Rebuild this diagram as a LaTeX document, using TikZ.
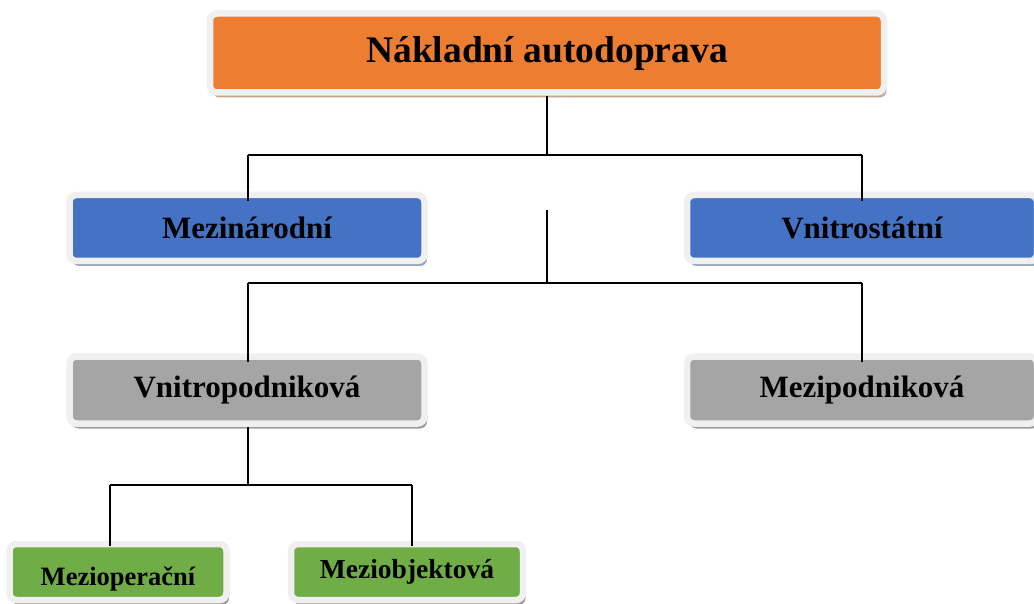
\documentclass[tikz,border=0pt]{standalone}
\usepackage{fontspec}
\setmainfont{Liberation Serif}
\usetikzlibrary{shadows}
\definecolor{orangeF}{HTML}{ED7D31}
\definecolor{blueF}{HTML}{4472C4}
\definecolor{greyF}{HTML}{A5A5A5}
\definecolor{greenF}{HTML}{70AD47}
\definecolor{frameC}{HTML}{F0F0F0}
\definecolor{shTan}{HTML}{C4A48C}
\definecolor{shBlue}{HTML}{98A6BE}
\definecolor{shGrey}{HTML}{9C9C9C}
\tikzset{
  box/.style={draw=frameC, line width=6.5pt, rounded corners=7pt, inner sep=0pt,
    font=\bfseries, text=black},
  conn/.style={draw=black, line width=1.8pt},
  shad/.style={drop shadow={shadow xshift=2.5pt, shadow yshift=-5pt, fill=#1, opacity=1}},
}
\begin{document}
\begin{tikzpicture}[x=1pt,y=-1pt]
\useasboundingbox (0,0) rectangle (1034,604);
\clip (0,0) rectangle (1034,604);
% nodes
\node[box, fill=orangeF, minimum width=674pt, minimum height=79pt, shad=shTan,
  font=\bfseries\fontsize{37.5}{40}\selectfont] (top) at (547,53) {\raisebox{-1pt}{Nákladní autodoprava}};
\node[box, fill=blueF, minimum width=355pt, minimum height=66pt, shad=shBlue,
  font=\bfseries\fontsize{31}{33}\selectfont] (mez) at (247,228) {\raisebox{-1pt}{Mezinárodní}};
\node[box, fill=blueF, minimum width=350pt, minimum height=66pt, shad=shBlue,
  font=\bfseries\fontsize{31}{33}\selectfont] (vni) at (862,228) {\raisebox{-1pt}{Vnitrostátní}};
\node[box, fill=greyF, minimum width=355pt, minimum height=67pt, shad=shGrey,
  font=\bfseries\fontsize{31}{33}\selectfont] (vpod) at (247,390) {Vnitropodniková};
\node[box, fill=greyF, minimum width=350pt, minimum height=67pt, shad=shGrey,
  font=\bfseries\fontsize{31}{33}\selectfont] (mpod) at (862,390) {Mezipodniková};
\node[box, fill=greenF, minimum width=217pt, minimum height=56pt, shad=shGrey,
  font=\bfseries\fontsize{26.5}{28}\selectfont, text depth=0pt] (mop) at (118,572) {\raisebox{-9pt}{Mezioperační}};
\node[box, fill=greenF, minimum width=232pt, minimum height=56pt, shad=shGrey,
  font=\bfseries\fontsize{27.5}{29}\selectfont] (mob) at (407,572) {\raisebox{-1pt}{Meziobjektová}};
% connectors
\coordinate (j1) at (547,155);
\draw[conn] (top.south) -- (j1);
\draw[conn] (248,155) -- (862,155);
\draw[conn] (248,155) -- (248,201);
\draw[conn] (862,155) -- (862,201);
\coordinate (free) at (547,210);
\coordinate (j2) at (547,283);
\draw[conn] (free) -- (j2);
\draw[conn] (248,283) -- (862,283);
\draw[conn] (248,283) -- (248,362);
\draw[conn] (862,283) -- (862,362);
\coordinate (j3) at (248,485);
\draw[conn] (vpod.south) ++(1,0) -- (j3);
\draw[conn] (110,485) -- (412,485);
\draw[conn] (110,485) -- (110,546);
\draw[conn] (412,485) -- (412,546);
\end{tikzpicture}
\end{document}
